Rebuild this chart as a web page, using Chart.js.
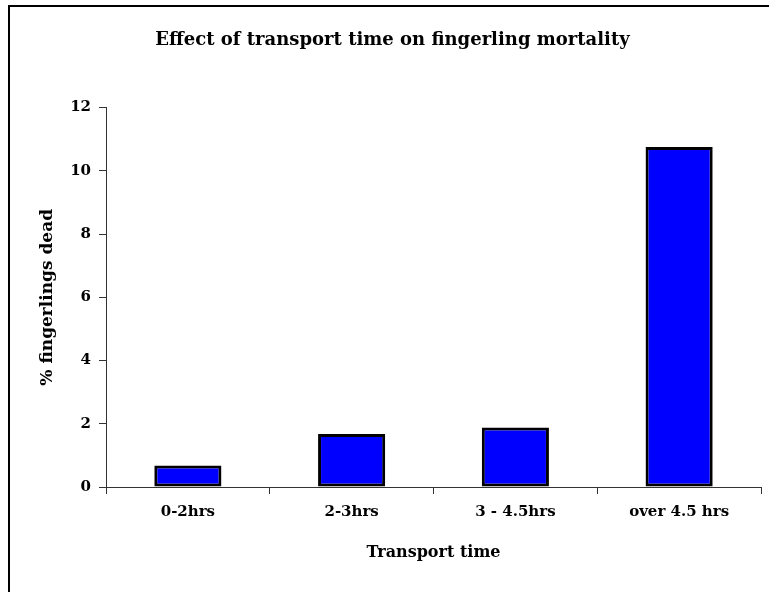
<!DOCTYPE html>
<html>
<head>
<meta charset="utf-8">
<script src="https://cdn.jsdelivr.net/npm/chart.js@4/dist/chart.umd.min.js"></script>
<style>
  html, body { margin: 0; padding: 0; background: #ffffff; overflow: hidden; }
  #wrap { position: relative; width: 769px; height: 592px; }
  #frame { position: absolute; left: 8px; top: 5px; width: 900px; height: 700px;
           border-left: 2px solid #000; border-top: 2px solid #000; box-sizing: border-box; }
  #chart { position: absolute; left: 0; top: 0; }
</style>
</head>
<body>
<div id="wrap">
  <div id="frame"></div>
  <canvas id="chart" width="769" height="592"></canvas>
</div>
<script>
// Mortality of fingerlings by transport duration
const categories = ['0-2hrs', '2-3hrs', '3 - 4.5hrs', 'over 4.5 hrs'];
const percentDead = [0.68, 1.68, 1.88, 10.75];
const yTicks = [0, 2, 4, 6, 8, 10, 12];

const serif = 'DejaVu Serif';
const axisColor = '#333333';

new Chart(document.getElementById('chart'), {
  type: 'bar',
  data: {
    labels: categories,
    datasets: [{
      data: percentDead,
      backgroundColor: '#0000ff',
      borderColor: '#000000',
      borderWidth: 3,
      borderSkipped: false,
      barPercentage: 0.41,
      categoryPercentage: 1.0
    }]
  },
  options: {
    responsive: false,
    animation: false,
    layout: { padding: { left: 24, right: 8, top: 0, bottom: 0 } },
    plugins: {
      legend: { display: false },
      tooltip: { enabled: false },
      title: {
        display: true,
        text: 'Effect of transport time on fingerling mortality',
        color: '#000',
        font: { family: serif, size: 18, weight: 'bold' },
        padding: { top: 30, bottom: 56 }
      }
    },
    scales: {
      x: {
        type: 'category',
        offset: true,
        grid: { display: true, offset: true, drawOnChartArea: false, drawTicks: true, tickLength: 7, color: axisColor },
        border: { display: true, color: axisColor, width: 1 },
        ticks: { color: '#000', font: { family: serif, size: 15, weight: 'bold' }, padding: 9, maxRotation: 0 },
        title: { display: true, text: 'Transport time', color: '#000', font: { family: serif, size: 16, weight: 'bold' }, padding: { top: 0, bottom: 30 } },
        afterFit: s => { s.height = 105; }
      },
      y: {
        min: 0,
        max: 12,
        afterBuildTicks: s => { s.ticks = yTicks.map(v => ({ value: v })); },
        grid: { display: true, drawOnChartArea: false, drawTicks: true, tickLength: 7, color: axisColor },
        border: { display: true, color: axisColor, width: 1 },
        ticks: { color: '#000', font: { family: serif, size: 15, weight: 'bold' }, padding: 8 },
        title: { display: true, text: '% fingerlings dead', color: '#000', font: { family: serif, size: 17, weight: 'bold' }, padding: { top: 13, bottom: 0 } },
        afterFit: s => { s.width = 82; }
      }
    }
  }
});
</script>
</body>
</html>
